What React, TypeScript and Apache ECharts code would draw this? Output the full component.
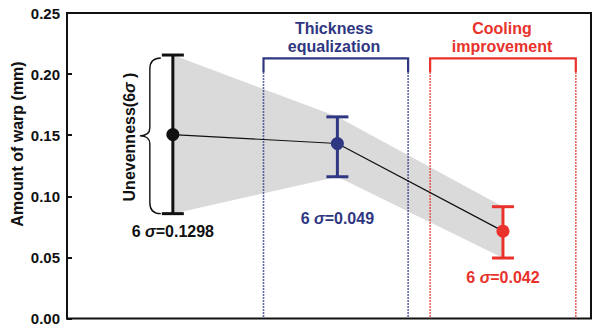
import React, { useEffect, useRef } from "react";
import * as echarts from "echarts";

// Horizontal positions of the three process stages (0–100 scale, axis hidden)
const STAGE_X = [20.2, 51.6, 83.2];
// Mean warp and lower end of the 6σ spread (mm)
const MEAN_WARP = [0.1505, 0.1432, 0.0715];
const LOW_WARP = [0.0858, 0.116, 0.0495];
// Unevenness 6σ (mm)
const SIGMA6 = [0.1298, 0.049, 0.042];
const SIGMA_TEXT = ["0.1298", "0.049", "0.042"];
// Y ticks
const Y_TICKS = [0, 0.05, 0.1, 0.15, 0.2, 0.25];
// Bracketed improvement regions: [left, right, top, solid-end]
const REGION_LEFT = [37.5, 69.3];
const REGION_RIGHT = [65.1, 97.1];
const REGION_TOP = [0.2128, 0.2128];
const REGION_SOLID_END = [0.2015, 0.2015];
const REGION_TITLES = ["Thickness\nequalization", "Cooling\nimprovement"];

const STAGE_COLORS = ["#111111", "#2f3782", "#e8322b"];
const REGION_COLORS = ["#2f3782", "#e8322b"];
const LABEL_DROP = [18, 42, 19];
const FONT = "'Liberation Sans', Arial, Helvetica, sans-serif";

const HIGH_WARP = LOW_WARP.map((v, i) => v + SIGMA6[i]);

export default function App() {
  const ref = useRef<HTMLDivElement>(null);

  useEffect(() => {
    document.body.style.margin = "0";
    const chart = echarts.init(ref.current!, null, { renderer: "svg" });

    const sigmaRich = (color: string) => ({
      n: { fontFamily: FONT, fontWeight: "bold", fontSize: 16, fill: color, color },
      s: { fontFamily: FONT, fontWeight: "bold", fontStyle: "italic", fontSize: 16, fill: color, color },
    });

    chart.setOption({
      animation: false,
      grid: {
        left: 67,
        right: 4,
        top: 13,
        bottom: 4,
        show: true,
        borderColor: "#111",
        borderWidth: 2,
        backgroundColor: "transparent",
      },
      xAxis: {
        type: "value",
        min: 0,
        max: 100,
        show: false,
      },
      yAxis: {
        type: "value",
        min: Y_TICKS[0],
        max: Y_TICKS[Y_TICKS.length - 1],
        interval: 0.05,
        axisLine: { show: true, lineStyle: { color: "#111", width: 2 } },
        axisTick: { show: true, inside: true, length: 5, lineStyle: { color: "#111", width: 2 } },
        splitLine: { show: false },
        axisLabel: {
          margin: 7,
          fontFamily: FONT,
          fontWeight: "bold",
          fontSize: 15,
          color: "#111",
          verticalAlign: "middle",
          verticalAlignMinLabel: "middle",
          verticalAlignMaxLabel: "middle",
          formatter: (v: number) => v.toFixed(2),
        },
      },
      graphic: [
        {
          type: "text",
          x: 17,
          y: 144,
          rotation: Math.PI / 2,
          style: {
            text: "Amount of warp (mm)",
            fontFamily: FONT,
            fontWeight: "bold",
            fontSize: 16,
            fill: "#111",
            align: "center",
            verticalAlign: "middle",
          },
        },
        {
          type: "text",
          x: 129,
          y: 137,
          rotation: Math.PI / 2,
          style: {
            text: "{n|Unevenness(6}{s|σ}{n| )}",
            rich: sigmaRich("#111"),
            align: "center",
            verticalAlign: "middle",
          },
        },
        ...REGION_TITLES.map((t, i) => ({
          type: "text",
          x: i === 0 ? 334 : 502,
          y: 37,
          style: {
            text: t,
            fontFamily: FONT,
            fontWeight: "bold",
            fontSize: 16,
            lineHeight: 18,
            fill: REGION_COLORS[i],
            align: "center",
            verticalAlign: "middle",
          },
        })),
      ],
      series: [
        {
          // grey band joining the 6σ extremes
          type: "custom",
          z: 1,
          data: [0],
          renderItem: (_params: any, api: any) => {
            const pts: number[][] = [];
            STAGE_X.forEach((x, i) => pts.push(api.coord([x, HIGH_WARP[i]])));
            for (let i = STAGE_X.length - 1; i >= 0; i--) pts.push(api.coord([STAGE_X[i], LOW_WARP[i]]));
            return {
              type: "polygon",
              shape: { points: pts },
              style: { fill: "#dadada", stroke: "none" },
            };
          },
        },
        {
          // improvement region brackets
          type: "custom",
          z: 2,
          data: REGION_LEFT.map((l, i) => [l, REGION_RIGHT[i], REGION_TOP[i], REGION_SOLID_END[i]]),
          renderItem: (params: any, api: any) => {
            const i = params.dataIndex;
            const c = REGION_COLORS[i];
            const x0 = api.value(0), x1 = api.value(1), top = api.value(2), end = api.value(3);
            const a = api.coord([x0, end]);
            const b = api.coord([x0, top]);
            const cc = api.coord([x1, top]);
            const d = api.coord([x1, end]);
            const a0 = api.coord([x0, 0]);
            const d0 = api.coord([x1, 0]);
            return {
              type: "group",
              children: [
                {
                  type: "polyline",
                  shape: { points: [a, b, cc, d] },
                  style: { stroke: c, lineWidth: 2.2, fill: "none" },
                },
                {
                  type: "line",
                  shape: { x1: a[0], y1: a[1], x2: a0[0], y2: a0[1] },
                  style: { stroke: c, lineWidth: 1.6, lineDash: [1.5, 1.5] },
                },
                {
                  type: "line",
                  shape: { x1: d[0], y1: d[1], x2: d0[0], y2: d0[1] },
                  style: { stroke: c, lineWidth: 1.6, lineDash: [1.5, 1.5] },
                },
              ],
            };
          },
        },
        {
          type: "line",
          z: 3,
          data: STAGE_X.map((x, i) => [x, MEAN_WARP[i]]),
          symbol: "none",
          lineStyle: { color: "#111", width: 1.2 },
        },
        {
          // brace marking the first spread
          type: "custom",
          z: 3,
          data: [0],
          renderItem: (_params: any, api: any) => {
            const top = api.coord([STAGE_X[0], HIGH_WARP[0]]);
            const bot = api.coord([STAGE_X[0], LOW_WARP[0]]);
            const xe = top[0] - 12;
            const xb = top[0] - 23;
            const xt = top[0] - 33;
            const yt = top[1] + 3;
            const yb = bot[1];
            const ym = (yt + yb) / 2;
            const d =
              `M ${xe} ${yt} Q ${xb} ${yt} ${xb} ${yt + 11} L ${xb} ${ym - 8} ` +
              `Q ${xb} ${ym} ${xt} ${ym} Q ${xb} ${ym} ${xb} ${ym + 8} ` +
              `L ${xb} ${yb - 11} Q ${xb} ${yb} ${xe} ${yb}`;
            return {
              type: "path",
              shape: { pathData: d },
              style: { stroke: "#111", lineWidth: 1.4, fill: "none" },
            };
          },
        },
        {
          // 6σ error bars, means and labels
          type: "custom",
          z: 4,
          data: STAGE_X.map((x, i) => [x, LOW_WARP[i], HIGH_WARP[i], MEAN_WARP[i]]),
          renderItem: (params: any, api: any) => {
            const i = params.dataIndex;
            const c = STAGE_COLORS[i];
            const x = api.value(0);
            const lo = api.coord([x, api.value(1)]);
            const hi = api.coord([x, api.value(2)]);
            const m = api.coord([x, api.value(3)]);
            const half = 11;
            return {
              type: "group",
              children: [
                {
                  type: "line",
                  shape: { x1: lo[0], y1: lo[1], x2: hi[0], y2: hi[1] },
                  style: { stroke: c, lineWidth: 3 },
                },
                {
                  type: "line",
                  shape: { x1: hi[0] - half, y1: hi[1], x2: hi[0] + half, y2: hi[1] },
                  style: { stroke: c, lineWidth: 3 },
                },
                {
                  type: "line",
                  shape: { x1: lo[0] - half, y1: lo[1], x2: lo[0] + half, y2: lo[1] },
                  style: { stroke: c, lineWidth: 3 },
                },
                {
                  type: "circle",
                  shape: { cx: m[0], cy: m[1], r: 6.5 },
                  style: { fill: c, stroke: "none" },
                },
                {
                  type: "text",
                  x: lo[0],
                  y: lo[1] + LABEL_DROP[i],
                  style: {
                    text: `{n|6 }{s|σ}{n|=${SIGMA_TEXT[i]}}`,
                    rich: sigmaRich(c),
                    align: "center",
                    verticalAlign: "middle",
                  },
                },
              ],
            };
          },
        },
      ],
    });

    return () => chart.dispose();
  }, []);

  return <div ref={ref} style={{ width: 595, height: 326, position: "absolute", left: 0, top: 0 }} />;
}
